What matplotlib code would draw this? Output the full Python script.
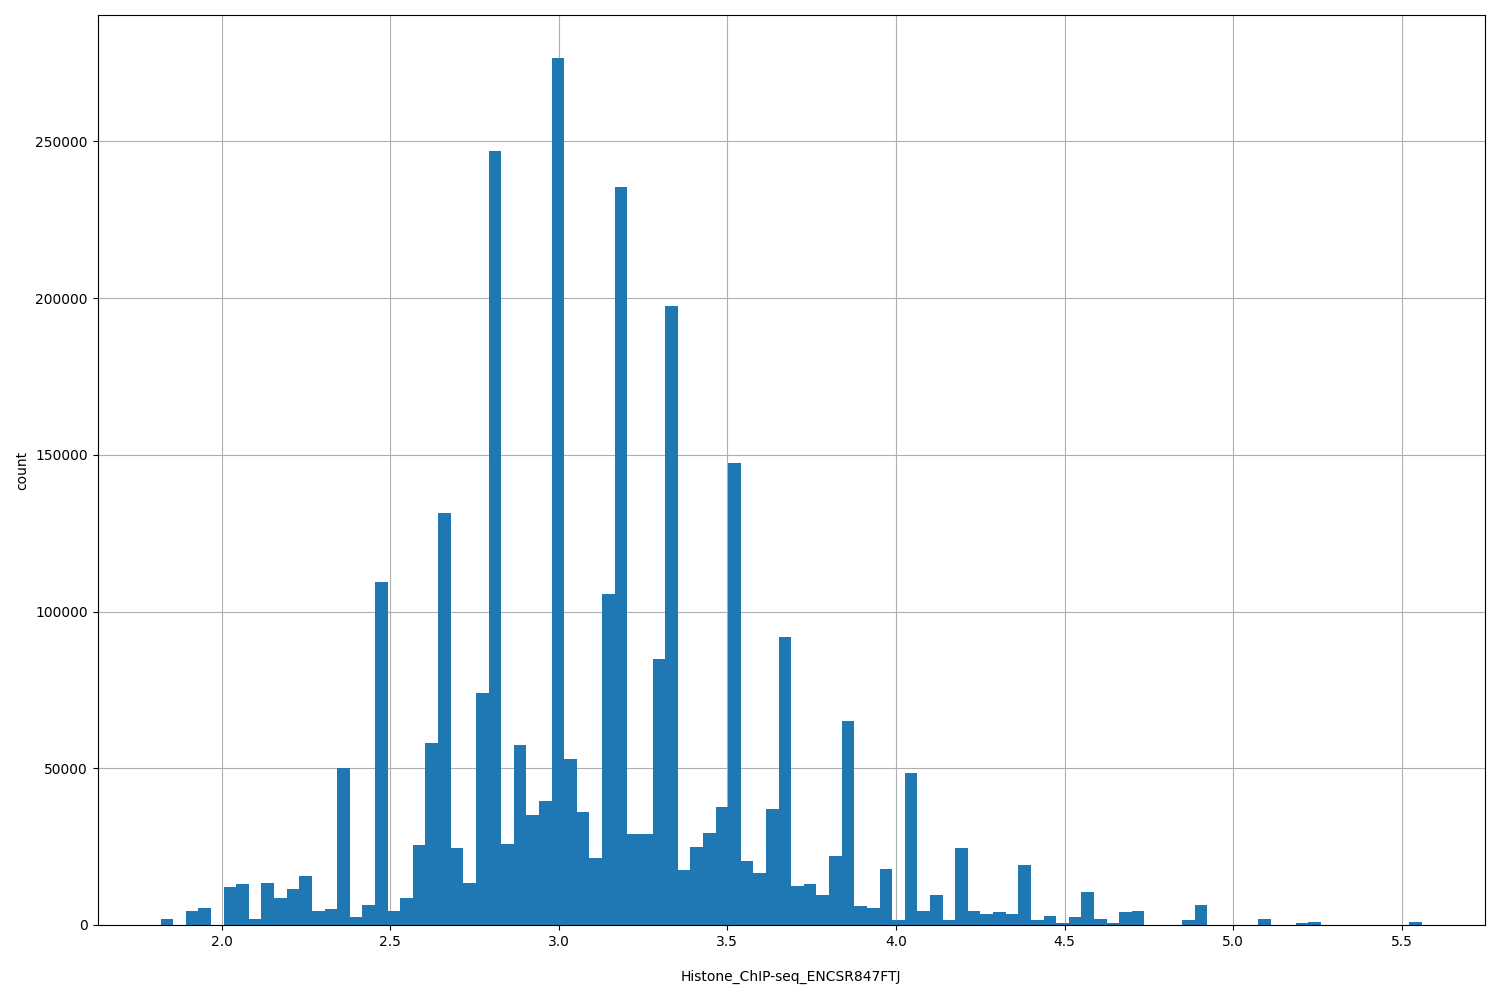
import matplotlib
matplotlib.use("Agg")
import matplotlib.pyplot as plt
import numpy as np

data_min = 1.819
data_max = 5.560
n_bins = 100
counts = [2000,0,4500,5500,0,12000,13000,2000,13500,8500,
          11500,15500,4500,5000,50000,2500,6500,109500,4500,8500,
          25500,58000,131500,24500,13500,74000,247000,26000,57500,35000,
          39500,276500,53000,36000,21500,105500,235500,29000,29000,85000,
          197500,17500,25000,29500,37500,147500,20500,16500,37000,92000,
          12500,13000,9500,22000,65000,6000,5500,18000,1500,48500,
          4500,9500,1500,24500,4500,3500,4000,3500,19000,1500,
          3000,500,2500,10500,2000,500,4000,4500,0,0,
          0,1500,6500,0,0,0,0,2000,0,0,
          500,800,0,0,0,0,0,0,0,800]

edges = np.linspace(data_min, data_max, n_bins + 1)
fig = plt.figure(figsize=(15, 10), dpi=100)
ax = fig.add_axes([0.065, 0.075, 0.925, 0.91])
ax.hist(edges[:-1], bins=edges, weights=counts, color="#1f77b4", zorder=2)
ax.grid(True, zorder=0)
ax.set_axisbelow(True)
ax.set_xlabel("Histone_ChIP-seq_ENCSR847FTJ", labelpad=15)
ax.set_ylabel("count")
fig.savefig("out.png")
